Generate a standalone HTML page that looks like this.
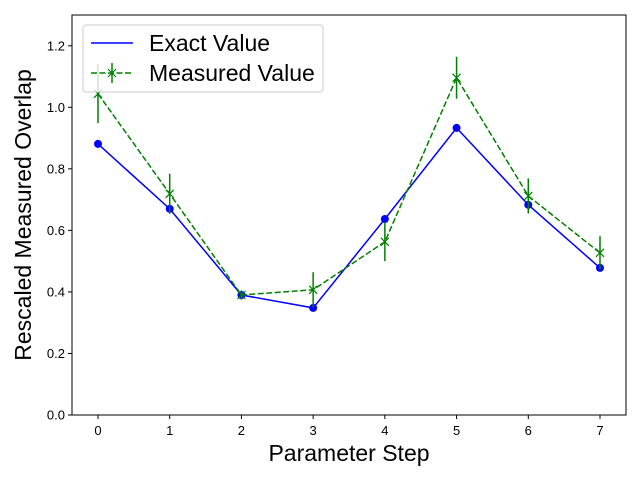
<!DOCTYPE html>
<html><head><meta charset="utf-8"><style>body{margin:0;background:#fff}svg{font-family:"Liberation Sans",sans-serif}</style></head>
<body>
<svg id="c" width="640" height="480"></svg>
<script>
const steps=[0,1,2,3,4,5,6,7];
const exactVals=[0.881,0.670,0.390,0.348,0.637,0.933,0.683,0.478];
const measuredVals=[1.044,0.719,0.390,0.407,0.563,1.096,0.712,0.527];
const measuredErr=[0.095,0.065,0.015,0.057,0.063,0.068,0.057,0.054];
const yTicks=[0,0.2,0.4,0.6,0.8,1.0,1.2];
const xTicks=[0,1,2,3,4,5,6,7];
const L=72,R=626,T=15,B=415;
const X=v=>98+v*(502/7);
const Y=v=>B-v*(400/1.3);
const s=document.getElementById('c');const NS='http://www.w3.org/2000/svg';
function el(t,a,name,txt){const e=document.createElementNS(NS,t);for(const k in a)e.setAttribute(k,a[k]);


if(txt!==undefined)e.textContent=txt;s.appendChild(e);return e;}
el('rect',{x:L,y:T,width:R-L,height:B-T,fill:'none',stroke:'#000','stroke-width':1},'plot-frame');
yTicks.forEach(v=>{el('line',{x1:L-4,x2:L,y1:Y(v),y2:Y(v),stroke:'#000'},'y-tick');
el('text',{x:L-7,y:Y(v)+4.5,'text-anchor':'end','font-size':13},'y-tick-label',v.toFixed(1));});
xTicks.forEach(v=>{el('line',{x1:X(v),x2:X(v),y1:B,y2:B+4,stroke:'#000'},'x-tick');
el('text',{x:X(v),y:B+20,'text-anchor':'middle','font-size':13},'x-tick-label',String(v));});
el('text',{x:349,y:461,'text-anchor':'middle','font-size':23},'x-axis-title','Parameter Step');
el('text',{x:0,y:0,'text-anchor':'middle','font-size':23,transform:'translate(31,215) rotate(-90)'},'y-axis-title','Rescaled Measured Overlap');
el('polyline',{points:steps.map((x,i)=>X(x)+','+Y(exactVals[i])).join(' '),fill:'none',stroke:'#0000ff','stroke-width':1.5},'exact-line');
steps.forEach((x,i)=>el('circle',{cx:X(x),cy:Y(exactVals[i]),r:4,fill:'#0000ff'},'exact-point'));
steps.forEach((x,i)=>el('line',{x1:X(x),x2:X(x),y1:Y(measuredVals[i]-measuredErr[i]),y2:Y(measuredVals[i]+measuredErr[i]),stroke:'#008000','stroke-width':1.5},'error-bar'));
el('polyline',{points:steps.map((x,i)=>X(x)+','+Y(measuredVals[i])).join(' '),fill:'none',stroke:'#008000','stroke-width':1.5,'stroke-dasharray':'6,2.5'},'measured-line');
steps.forEach((x,i)=>{const cx=X(x),cy=Y(measuredVals[i]);el('path',{d:`M${cx-4},${cy-4}L${cx+4},${cy+4}M${cx-4},${cy+4}L${cx+4},${cy-4}`,stroke:'#008000','stroke-width':1.2},'measured-point');});
el('rect',{x:83,y:25,width:240,height:67,rx:3,fill:'#fff','fill-opacity':0.8,stroke:'#ccc'},'legend');
el('line',{x1:91,x2:133,y1:43,y2:43,stroke:'#0000ff','stroke-width':1.5},'legend-exact-line');
el('text',{x:149,y:51,'font-size':23},'legend-exact-label','Exact Value');
el('line',{x1:91,x2:133,y1:73,y2:73,stroke:'#008000','stroke-width':1.5,'stroke-dasharray':'6,2.5'},'legend-measured-line');
el('line',{x1:112,x2:112,y1:63,y2:83,stroke:'#008000','stroke-width':1.5},'legend-measured-err');
el('path',{d:'M108,69L116,77M108,77L116,69',stroke:'#008000','stroke-width':1.2},'legend-measured-marker');
el('text',{x:149,y:81,'font-size':23},'legend-measured-label','Measured Value');
</script>
</body></html>
